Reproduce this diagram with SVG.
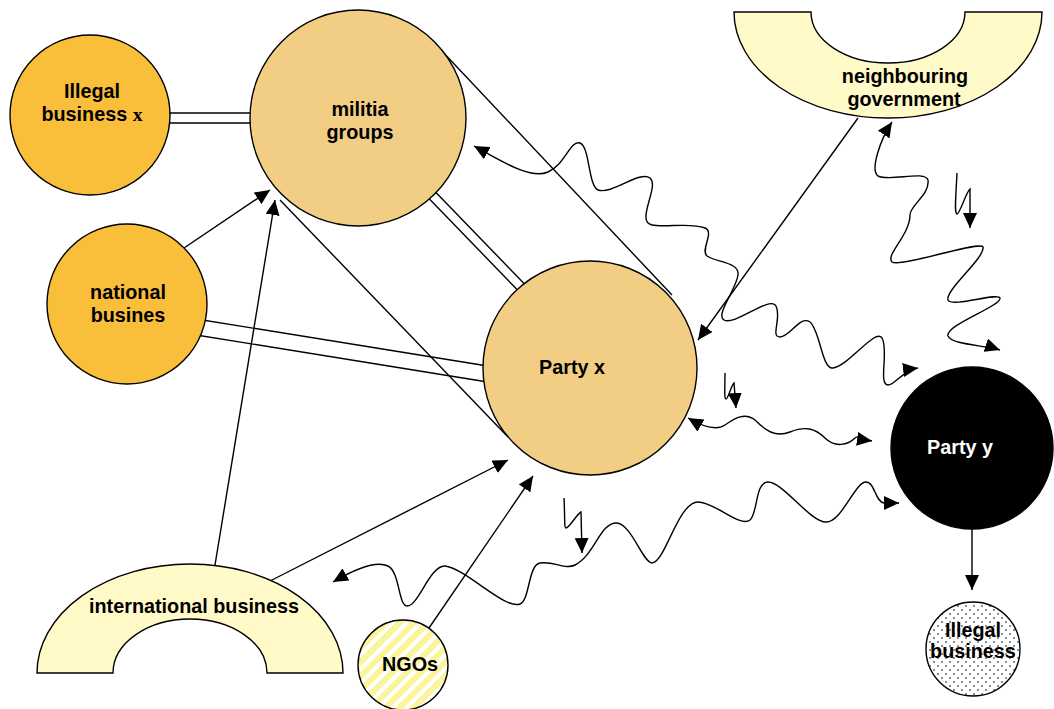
<svg xmlns="http://www.w3.org/2000/svg" width="1054" height="709" viewBox="0 0 1054 709">
<style>
.t{font-family:"Liberation Sans",Arial,sans-serif;font-weight:bold;font-size:19.8px;text-anchor:middle;fill:#000}
.ln{stroke:#000;stroke-width:1.4;fill:none}
.nd{stroke:#000;stroke-width:1.4}
</style>
<defs>
<marker id="ah" markerUnits="userSpaceOnUse" markerWidth="16" markerHeight="14" refX="15" refY="7" orient="auto-start-reverse"><path d="M0,0 L15,7 L0,14 z" fill="#000"/></marker>
<pattern id="stripes" patternUnits="userSpaceOnUse" width="10" height="10" patternTransform="rotate(45)"><rect width="10" height="10" fill="#fff"/><rect width="6" height="10" fill="#fbf49a"/></pattern>
<pattern id="dots" patternUnits="userSpaceOnUse" width="8" height="8"><rect width="8" height="8" fill="#fff"/><circle cx="2" cy="2" r="0.8" fill="#000"/><circle cx="6" cy="6" r="0.8" fill="#000"/></pattern>
</defs>
<g id="connectors">
<line class="ln" x1="160" y1="113" x2="260" y2="113"/>
<line class="ln" x1="160" y1="123" x2="260" y2="123"/>
<line class="ln" x1="420" y1="176" x2="540" y2="300"/>
<line class="ln" x1="413" y1="182" x2="533" y2="306"/>
<line class="ln" x1="190" y1="318" x2="500" y2="368"/>
<line class="ln" x1="190" y1="334" x2="500" y2="384"/>
<line class="ln" x1="440" y1="49" x2="672" y2="295"/>
<line class="ln" x1="280" y1="200" x2="508" y2="437"/>
<line class="ln" x1="184" y1="248" x2="270" y2="190" marker-end="url(#ah)"/>
<line class="ln" x1="215" y1="565" x2="275" y2="200" marker-end="url(#ah)"/>
<line class="ln" x1="270" y1="581" x2="508" y2="460" marker-end="url(#ah)"/>
<line class="ln" x1="429" y1="628" x2="533" y2="476" marker-end="url(#ah)"/>
<line class="ln" x1="858" y1="118" x2="698" y2="340" marker-end="url(#ah)"/>
<line class="ln" x1="972" y1="529" x2="972" y2="590" marker-end="url(#ah)"/>
<path class="ln" marker-start="url(#ah)" marker-end="url(#ah)" d="M474,146 C500,160 530,180 548,172 C565,165 570,140 580,143 C590,147 588,185 598,190 C612,195 640,170 650,178 C660,186 635,222 652,225 C665,228 690,222 705,228 C715,232 700,250 707,256 C715,262 740,262 738,275 C736,290 715,315 724,320 C735,326 770,295 776,306 C782,318 770,337 780,337 C790,337 800,315 810,322 C820,330 822,370 833,368 C850,365 875,328 882,338 C889,350 878,385 888,385 C895,385 903,370 918,368"/>
<path class="ln" marker-start="url(#ah)" marker-end="url(#ah)" d="M892,122 C880,140 870,170 878,176 C890,182 925,170 928,180 C930,195 910,205 910,215 C910,235 885,255 892,262 C900,268 980,240 983,247 C985,258 945,290 948,300 C952,308 998,292 1000,298 C1002,306 945,325 948,336 C952,345 985,345 1000,350"/>
<path class="ln" marker-start="url(#ah)" marker-end="url(#ah)" d="M688,418 C700,425 715,432 725,425 C735,418 745,412 755,420 C765,430 775,438 790,432 C805,426 815,428 825,438 C835,448 848,445 855,438 C860,434 865,440 872,441"/>
<path class="ln" marker-start="url(#ah)" marker-end="url(#ah)" d="M333,582 C350,572 375,560 388,566 C400,572 398,605 407,606 C418,607 430,565 445,566 C465,568 505,610 520,604 C530,600 528,565 540,563 C555,561 565,570 575,565 C595,555 600,522 617,523 C632,525 643,563 652,563 C665,563 678,502 698,502 C715,502 740,528 750,520 C758,513 755,482 768,482 C783,482 810,522 826,522 C842,522 855,482 866,482 C875,482 875,502 884,503 C890,504 895,503 899,503"/>
<path class="ln" marker-end="url(#ah)" d="M957,173 C956,195 954,213 957,214 C960,214 966,192 970,189 L970,228"/>
<path class="ln" marker-end="url(#ah)" d="M725,373 C725,388 724,399 726,399 C728,399 731,386 734,383 L736,408"/>
<path class="ln" marker-end="url(#ah)" d="M564,498 C565,515 564,528 566,528 C569,528 577,514 581,512 L582,553"/>
</g>
<g id="illegal-business-x">
<circle class="nd" cx="90" cy="115" r="80" fill="#f9bf3b"/>
<text class="t" x="92" y="98">Illegal</text>
<text class="t" x="92" y="121">business <tspan font-family="Liberation Serif,serif">x</tspan></text>
</g>
<g id="militia-groups">
<circle class="nd" cx="358" cy="118" r="108" fill="#f2ce85"/>
<text class="t" x="360" y="116">militia</text>
<text class="t" x="360" y="139">groups</text>
</g>
<g id="national-busines">
<circle class="nd" cx="127" cy="304" r="80" fill="#f9bf3b"/>
<text class="t" x="128" y="299">national</text>
<text class="t" x="128" y="322">busines</text>
</g>
<g id="party-x">
<circle class="nd" cx="590" cy="368" r="107" fill="#f2ce85"/>
<text class="t" x="572" y="374">Party x</text>
</g>
<g id="neighbouring-government">
<path class="nd" fill="#fffac8" d="M734,12 A154,106 0 0 0 1042,12 L965,12 A77,51 0 0 1 811,12 Z"/>
<text class="t" x="905" y="83">neighbouring</text>
<text class="t" x="904" y="106">government</text>
</g>
<g id="party-y">
<circle class="nd" cx="972" cy="448" r="81" fill="#000"/>
<text class="t" x="960" y="454" style="fill:#fff">Party y</text>
</g>
<g id="illegal-business">
<circle class="nd" cx="973" cy="649" r="47" fill="url(#dots)"/>
<text class="t" x="973" y="637">Illegal</text>
<text class="t" x="973" y="658">business</text>
</g>
<g id="international-business">
<path class="nd" fill="#fffac8" d="M37,673 A153,109 0 0 1 343,673 L267,673 A77,54 0 0 0 113,673 Z"/>
<text class="t" x="194" y="613">international business</text>
</g>
<g id="ngos">
<circle class="nd" cx="403" cy="665" r="45" fill="url(#stripes)"/>
<text class="t" x="410" y="671">NGOs</text>
</g>
</svg>
